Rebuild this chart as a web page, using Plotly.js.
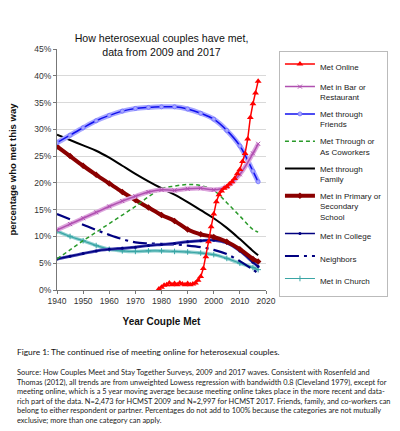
<!DOCTYPE html>
<html><head><meta charset="utf-8">
<script src="https://cdn.plot.ly/plotly-3.0.1.min.js"></script>
<style>html,body{margin:0;padding:0;background:#fff;}#chart{width:400px;height:431px;}</style>
</head><body><div id="chart"></div>
<script>
// ---- data (percent) ----
const years = [1940,1945,1950,1955,1960,1965,1970,1975,1980,1985,1990,1995,2000,2005,2010,2015,2017];
const friends   = [27.5,28.9,30.3,31.6,32.6,33.4,33.9,34.1,34.2,34.2,33.8,33.0,31.9,29.8,26.9,22.2,20.2];
const family    = [29.0,28.0,27.0,26.0,24.7,23.2,21.7,20.3,19.0,17.8,16.4,14.9,13.4,11.6,9.5,7.3,6.5];
const school    = [26.8,25.0,23.2,21.5,19.9,18.3,16.8,15.4,14.0,12.9,11.3,10.4,9.9,9.0,7.6,5.8,5.3];
const bar       = [11.2,12.3,13.4,14.5,15.6,16.6,17.5,18.3,18.7,18.6,18.9,19.0,18.7,19.3,21.6,25.5,27.3];
const coworkers = [5.8,7.5,9.2,10.8,12.4,14.0,15.6,17.4,18.9,19.4,19.7,19.5,18.6,16.3,13.8,11.3,10.8];
const college   = [5.8,6.3,6.8,7.3,7.6,7.8,8.0,8.3,8.5,8.7,9.0,9.2,9.3,8.8,7.3,5.2,4.4];
const neighbors = [14.2,13.2,12.2,11.2,10.3,9.5,8.9,8.7,8.6,8.5,8.3,8.0,7.5,6.7,5.4,3.8,3.1];
const church    = [11.0,10.0,9.2,8.3,7.6,7.3,7.2,7.3,7.3,7.2,7.1,6.9,6.6,5.9,5.0,4.2,3.8];

const onlineYears = [1979,1980,1981,1982,1983,1984,1985,1986,1987,1988,1989,1990,1991,1992,1993,1994,1995,1996,1997,1998,1999,2000,2001,2002,2003,2004,2005,2006,2007,2008,2009,2010,2011,2012,2013,2014,2015,2016,2017];
const online = [0.2,0.5,0.9,1.0,1.3,1.0,1.2,1.0,1.3,1.1,1.0,1.2,1.0,1.1,1.3,1.8,2.5,4.0,6.2,9.0,11.8,14.2,16.5,17.8,18.5,19.0,19.3,19.8,20.2,20.8,21.7,22.5,24.0,25.5,28.2,32.2,34.8,36.8,39.0];

const names = {
  online: 'Met Online',
  bar: 'Met in Bar or<br>Restaurant',
  friends: 'Met through<br>Friends',
  coworkers: 'Met Through or<br>As Coworkers',
  family: 'Met through<br>Family',
  school: 'Met in Primary or<br>Secondary<br>School',
  college: 'Met in College',
  neighbors: 'Neighbors',
  church: 'Met in Church'
};
const yTicks = [0,5,10,15,20,25,30,35,40,45];
const xTicks = [1940,1950,1960,1970,1980,1990,2000,2010,2020];

const traces = [];
function halo(y, color, w){
  traces.push({x: years, y: y, mode:'lines', line:{color: color, width: w, shape:'spline'}, showlegend:false, hoverinfo:'skip'});
}
// church
halo(church, '#8fd0d0', 3.5);
traces.push({x: years, y: church, name: names.church, legendrank: 9, legendgroup:'g9', mode:'lines+markers',
  line:{color:'#3aa5a5', width:1.2, shape:'spline'}, marker:{symbol:'cross-thin-open', size:4, color:'#3aa5a5', line:{color:'#3aa5a5', width:1}}});
// neighbors
traces.push({x: years, y: neighbors, name: names.neighbors, legendrank: 8, legendgroup:'g8', mode:'lines',
  line:{color:'#000080', width:2.2, dash:'14px,5px,3px,5px', shape:'spline'}});
// college
halo(college, '#4040b0', 3);
traces.push({x: years, y: college, name: names.college, legendrank: 7, legendgroup:'g7', mode:'lines+markers',
  line:{color:'#000080', width:1.3, shape:'spline'}, marker:{symbol:'circle', size:3, color:'#000080'}});
// school
traces.push({x: years, y: school, name: names.school, legendrank: 6, legendgroup:'g6', mode:'lines+markers',
  line:{color:'#8b0000', width:4, shape:'spline'}, marker:{symbol:'diamond', size:5, color:'#8b0000'}});
// family
traces.push({x: years, y: family, name: names.family, legendrank: 5, legendgroup:'g5', mode:'lines',
  line:{color:'#000000', width:2, shape:'spline'}});
// coworkers
traces.push({x: years, y: coworkers, name: names.coworkers, legendrank: 4, legendgroup:'g4', mode:'lines',
  line:{color:'#2a9a2a', width:1.5, dash:'4px,3px', shape:'spline'}});
// friends
halo(friends, '#a8a8ff', 5);
traces.push({x: years, y: friends, name: names.friends, legendrank: 3, legendgroup:'g3', mode:'lines+markers',
  line:{color:'#1010ee', width:1.5, shape:'spline'}, marker:{symbol:'circle', size:4, color:'#a8a8ff', line:{color:'#7070ff', width:0.8}}});
// bar
halo(bar, '#dda6dd', 4.5);
traces.push({x: years, y: bar, name: names.bar, legendrank: 2, legendgroup:'g2', mode:'lines+markers',
  line:{color:'#b050b0', width:1.5, shape:'spline'}, marker:{symbol:'x-thin-open', size:4, color:'#b050b0', line:{color:'#b050b0', width:1}}});
// online
traces.push({x: onlineYears, y: online, name: names.online, legendrank: 1, legendgroup:'g1', mode:'lines+markers',
  line:{color:'#ff0000', width:1.5}, marker:{symbol:'triangle-up', size:6, color:'#ff0000'}});

const font = 'Liberation Sans, Arial, sans-serif';
const layout = {
  width: 400, height: 431,
  margin: {l:57, r:131, t:49, b:141},
  paper_bgcolor:'#fff', plot_bgcolor:'#fff',
  font: {family: font, color:'#222', size: 10},
  title: {text: 'How heterosexual couples have met,<br>data from 2009 and 2017', font:{family: font, size: 10.6, color:'#111'},
          x: 0.5, xref:'paper', xanchor:'center', y: 1, yref:'paper', yanchor:'bottom', pad:{b: 7}},
  xaxis: {range:[1940,2020], tickvals: xTicks, ticktext: xTicks.map(String), showgrid:false, zeroline:false,
          showline:true, linecolor:'#777', linewidth:1, ticks:'outside', ticklen:3, tickcolor:'#777',
          tickfont:{size:8.5, color:'#333'},
          title:{text:'<b>Year Couple Met</b>', font:{size:10, color:'#111'}, standoff: 12}},
  yaxis: {range:[0,45], tickvals: yTicks, ticktext: yTicks.map(v=>v+'%'), showgrid:true, gridcolor:'#d9d9d9', gridwidth:1,
          zeroline:false, showline:true, linecolor:'#777', linewidth:1, ticks:'outside', ticklen:3, tickcolor:'#777',
          tickfont:{size:8.5, color:'#333'},
          title:{text:'<b>percentage who met this way</b>', font:{size:9.5, color:'#111'}, standoff: 15}},
  legend: {x:1.062, y:0.99, xanchor:'left', yanchor:'top', bgcolor:'#fff', bordercolor:'#bbb', borderwidth:1,
           font:{size:8, color:'#222'}, traceorder:'grouped', tracegroupgap: 3.5, valign:'top', itemwidth:30, maxheight: 420},
  annotations: [
    {text:'Figure 1: The continued rise of meeting online for heterosexual couples.', xref:'paper', yref:'paper',
     x:-0.203, y:-0.257, xanchor:'left', yanchor:'middle', showarrow:false, align:'left',
     font:{family:'Lato, Open Sans, sans-serif', size:8.4, color:'#111'}},
    {text:'Source: How Couples Meet and Stay Together Surveys, 2009 and 2017 waves. Consistent with Rosenfeld and<br>' +
          'Thomas (2012), all trends are from unweighted Lowess regression with bandwidth 0.8 (Cleveland 1979), except for<br>' +
          'meeting online, which is a 5 year moving average because meeting online takes place in the more recent and data-<br>' +
          'rich part of the data. N=2,473 for HCMST 2009 and N=2,997 for HCMST 2017. Friends, family, and co-workers can<br>' +
          'belong to either respondent or partner. Percentages do not add to 100% because the categories are not mutually<br>' +
          'exclusive; more than one category can apply.',
     xref:'paper', yref:'paper', x:-0.203, y:-0.315, xanchor:'left', yanchor:'top', showarrow:false, align:'left',
     font:{family:'Lato, Open Sans, sans-serif', size:7.4, color:'#222'}}
  ]
};
Plotly.newPlot('chart', traces, layout, {displayModeBar:false, staticPlot:true});
</script>
</body></html>
